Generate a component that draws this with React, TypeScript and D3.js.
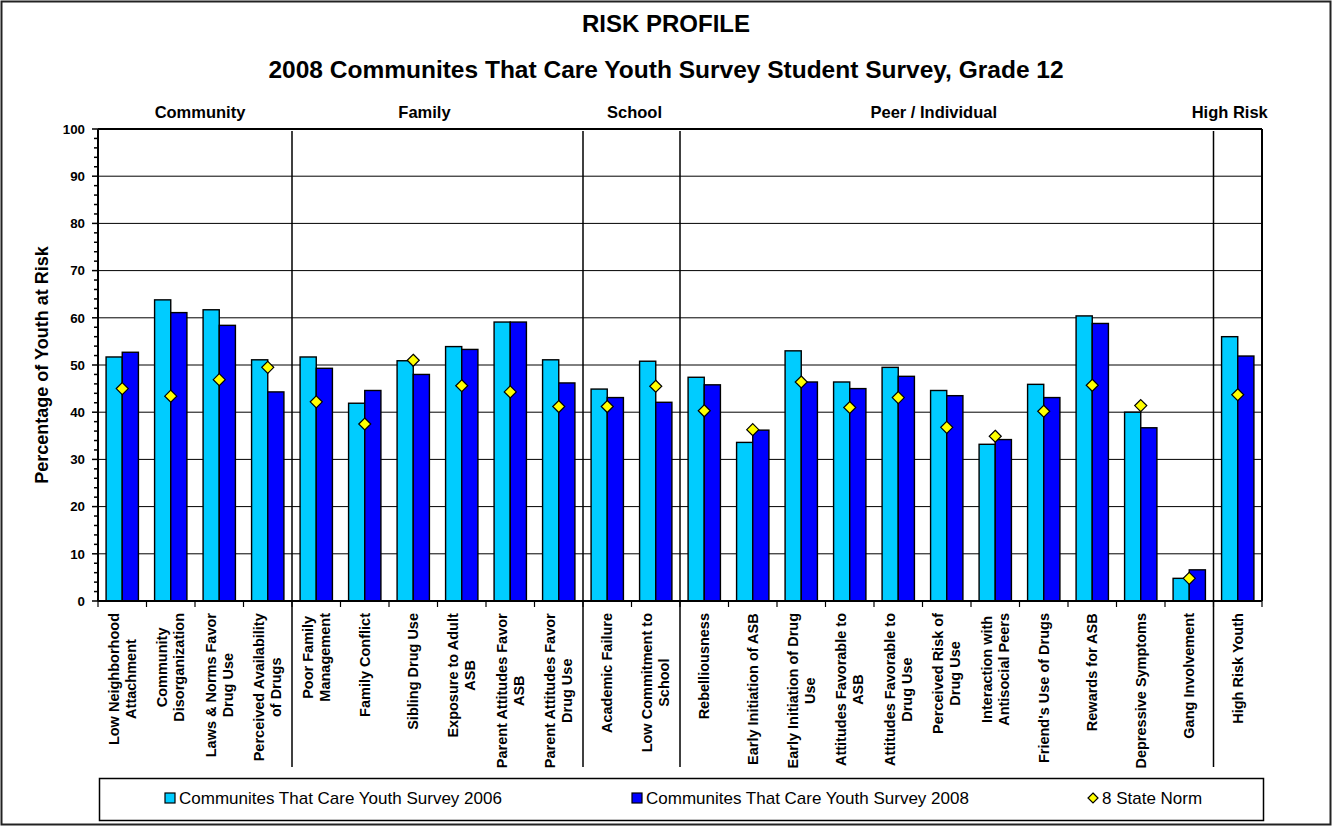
import React from "react";
import * as d3 from "d3";

// ---------- DATA ----------
const categories: string[] = [
  "Low Neighborhood\nAttachment",
  "Community\nDisorganization",
  "Laws & Norms Favor\nDrug Use",
  "Perceived Availability\nof Drugs",
  "Poor Family\nManagement",
  "Family Conflict",
  "Sibling Drug Use",
  "Exposure to Adult\nASB",
  "Parent Attitudes Favor\nASB",
  "Parent Attitudes Favor\nDrug Use",
  "Academic Failure",
  "Low Commitment to\nSchool",
  "Rebelliousness",
  "Early Initiation of ASB",
  "Early Initiation of Drug\nUse",
  "Attitudes Favorable to\nASB",
  "Attitudes Favorable to\nDrug Use",
  "Perceived Risk of\nDrug Use",
  "Interaction with\nAntisocial Peers",
  "Friend's Use of Drugs",
  "Rewards for ASB",
  "Depressive Symptoms",
  "Gang Involvement",
  "High Risk Youth",
];

const groupNames: string[] = ["Community", "Family", "School", "Peer / Individual", "High Risk"];
const groupSizes: number[] = [4, 6, 2, 11, 1];

const survey2006: number[] = [
  51.7, 63.8, 61.7, 51.1, 51.7, 41.9, 50.9, 53.9, 59.1, 51.1, 44.9, 50.8,
  47.4, 33.6, 53.0, 46.4, 49.5, 44.6, 33.2, 45.9, 60.4, 40.0, 4.8, 56.0,
];
const survey2008: number[] = [
  52.7, 61.1, 58.4, 44.3, 49.3, 44.6, 48.0, 53.3, 59.1, 46.2, 43.1, 42.1,
  45.8, 36.2, 46.4, 45.0, 47.6, 43.5, 34.2, 43.1, 58.8, 36.7, 6.6, 51.9,
];
const stateNorm: number[] = [
  45.0, 43.4, 46.9, 49.5, 42.2, 37.5, 51.0, 45.6, 44.3, 41.2, 41.2, 45.5,
  40.3, 36.3, 46.4, 41.0, 43.1, 36.8, 34.9, 40.2, 45.7, 41.4, 4.8, 43.7,
];

const yTicks: number[] = [0, 10, 20, 30, 40, 50, 60, 70, 80, 90, 100];
const seriesNames: string[] = [
  "Communites That Care Youth Survey 2006",
  "Communites That Care Youth Survey 2008",
  "8 State Norm",
];
const titleText = "RISK PROFILE";
const subtitleText = "2008 Communites That Care Youth Survey Student Survey, Grade 12";
const yAxisTitle = "Percentage of Youth at Risk";

// ---------- LAYOUT / STYLE ----------
const W = 1332;
const H = 826;
const plotLeft = 98;
const plotRight = 1262;
const plotTop = 129;
const plotBottom = 601;
const FONT = "'Liberation Sans', Arial, Helvetica, sans-serif";
const C2006 = "#00CCFF";
const C2008 = "#0000FF";
const CNORM = "#FFFF00";
const groupLabelShift: number[] = [5, -13, 3, -13, -8];
const labelFontSize = 14.5;
const labelTop = 613;
const lineGap = 17;
const sepBottom = 767;

let measureCtx: CanvasRenderingContext2D | null = null;
function textWidth(s: string, font: string): number {
  if (!measureCtx) {
    const c = document.createElement("canvas");
    measureCtx = c.getContext("2d");
  }
  if (!measureCtx) return s.length * 7.5;
  measureCtx.font = font;
  return measureCtx.measureText(s).width;
}

export default function App() {
  const idx = categories.map((_, i) => i);
  const x = d3.scaleBand<number>().domain(idx).range([plotLeft, plotRight]).padding(0);
  const step = x.step();
  const inner = d3
    .scaleBand<string>()
    .domain(["2006", "2008"])
    .range([0, step])
    .paddingInner(0)
    .paddingOuter(0.5);
  const y = d3.scaleLinear().domain([0, 100]).range([plotBottom, plotTop]);
  const minorTicks = d3.range(0, 101, 2).filter((v) => v % 10 !== 0);

  const bounds: number[] = [];
  let acc = 0;
  groupSizes.forEach((s) => {
    bounds.push(acc);
    acc += s;
  });
  const sepIdx = bounds.slice(1);

  const labelFont = `bold ${labelFontSize}px ${FONT}`;

  const diamond = (cx: number, cy: number, r: number) => {
    const p = d3.path();
    p.moveTo(cx, cy - r);
    p.lineTo(cx + r, cy);
    p.lineTo(cx, cy + r);
    p.lineTo(cx - r, cy);
    p.closePath();
    return p.toString();
  };

  const legendY = 798;
  const legendItems = [
    { x: 165, kind: "rect", color: C2006, name: seriesNames[0] },
    { x: 632, kind: "rect", color: C2008, name: seriesNames[1] },
    { x: 1088, kind: "diamond", color: CNORM, name: seriesNames[2] },
  ];

  return (
    <div style={{ position: "absolute", left: 0, top: 0 }}>
      <svg width={W} height={H} style={{ display: "block", background: "#fff" }} fontFamily={FONT}>
        <rect x={0} y={0} width={W} height={H} fill="#fff" />
        <rect x={1.5} y={1.5} width={W - 3} height={823} fill="none" stroke="#222" strokeWidth={2} />

        <text x={666} y={32} textAnchor="middle" fontWeight="bold" fontSize={24}>
          {titleText}
        </text>
        <text x={666} y={78} textAnchor="middle" fontWeight="bold" fontSize={24.5}>
          {subtitleText}
        </text>

        {groupNames.map((g, gi) => {
          const start = x(bounds[gi])!;
          const end = x(bounds[gi] + groupSizes[gi] - 1)! + step;
          return (
            <text
              key={g}
              x={(start + end) / 2 + groupLabelShift[gi]}
              y={118}
              textAnchor="middle"
              fontWeight="bold"
              fontSize={16.5}
            >
              {g}
            </text>
          );
        })}

        {yTicks
          .filter((t) => t !== 0 && t !== 100)
          .map((t) => (
            <line key={"g" + t} x1={plotLeft} x2={plotRight} y1={y(t)} y2={y(t)} stroke="#000" strokeWidth={1} />
          ))}

        {idx.map((i) => (
          <g key={"b" + i}>
            <rect
              x={x(i)! + inner("2006")!}
              y={y(survey2006[i])}
              width={inner.bandwidth()}
              height={y(0) - y(survey2006[i])}
              fill={C2006}
              stroke="#000"
              strokeWidth={1.4}
            />
            <rect
              x={x(i)! + inner("2008")!}
              y={y(survey2008[i])}
              width={inner.bandwidth()}
              height={y(0) - y(survey2008[i])}
              fill={C2008}
              stroke="#000"
              strokeWidth={1.4}
            />
          </g>
        ))}

        {sepIdx.map((si) => (
          <line key={"s" + si} x1={x(si)!} x2={x(si)!} y1={plotTop + 2} y2={sepBottom} stroke="#000" strokeWidth={1.5} />
        ))}

        {idx.map((i) => (
          <path
            key={"d" + i}
            d={diamond(x(i)! + inner("2008")!, y(stateNorm[i]), 6)}
            fill={CNORM}
            stroke="#000"
            strokeWidth={1.2}
          />
        ))}

        <line x1={plotLeft} x2={plotRight} y1={plotTop} y2={plotTop} stroke="#000" strokeWidth={2} />
        <line x1={plotRight} x2={plotRight} y1={plotTop} y2={plotBottom} stroke="#000" strokeWidth={2} />

        <line x1={plotLeft} x2={plotLeft} y1={plotTop} y2={plotBottom} stroke="#000" strokeWidth={2} />
        {minorTicks.map((t) => (
          <line key={"m" + t} x1={plotLeft - 4} x2={plotLeft} y1={y(t)} y2={y(t)} stroke="#000" strokeWidth={1.5} />
        ))}
        {yTicks.map((t) => (
          <g key={"t" + t}>
            <line x1={plotLeft - 6} x2={plotLeft} y1={y(t)} y2={y(t)} stroke="#000" strokeWidth={1.5} />
            <text x={85} y={y(t) + 4.8} textAnchor="end" fontWeight="bold" fontSize={13.33}>
              {t}
            </text>
          </g>
        ))}
        <text
          transform={`translate(48,${(plotTop + plotBottom) / 2}) rotate(-90)`}
          textAnchor="middle"
          fontWeight="bold"
          fontSize={18}
        >
          {yAxisTitle}
        </text>

        <line x1={plotLeft} x2={plotRight} y1={plotBottom} y2={plotBottom} stroke="#000" strokeWidth={2} />
        {d3.range(0, categories.length + 1).map((i) => {
          const xx = plotLeft + i * step;
          return <line key={"xt" + i} x1={xx} x2={xx} y1={plotBottom} y2={plotBottom + 6} stroke="#000" strokeWidth={1.2} />;
        })}

        {categories.map((c, i) => {
          const lines = c.split("\n");
          const maxLen = d3.max(lines, (l) => textWidth(l, labelFont)) || 0;
          const cx = x(i)! + step / 2;
          const n = lines.length;
          return (
            <g key={"l" + i}>
              {lines.map((l, li) => {
                const lx = cx + (li - (n - 1) / 2) * lineGap + 5;
                const ly = labelTop + maxLen / 2;
                return (
                  <text
                    key={li}
                    transform={`translate(${lx},${ly}) rotate(-90)`}
                    textAnchor="middle"
                    fontWeight="bold"
                    fontSize={labelFontSize}
                  >
                    {l}
                  </text>
                );
              })}
            </g>
          );
        })}

        <rect x={99.5} y={778.5} width={1164} height={42} fill="#fff" stroke="#000" strokeWidth={1.5} />
        {legendItems.map((it) => (
          <g key={it.name}>
            {it.kind === "rect" ? (
              <rect x={it.x} y={legendY - 5} width={10} height={10} fill={it.color} stroke="#000" strokeWidth={1.2} />
            ) : (
              <path d={diamond(it.x + 5, legendY, 5)} fill={it.color} stroke="#000" strokeWidth={1.2} />
            )}
            <text x={it.x + 14} y={legendY + 6} fontSize={17}>
              {it.name}
            </text>
          </g>
        ))}
      </svg>
    </div>
  );
}
